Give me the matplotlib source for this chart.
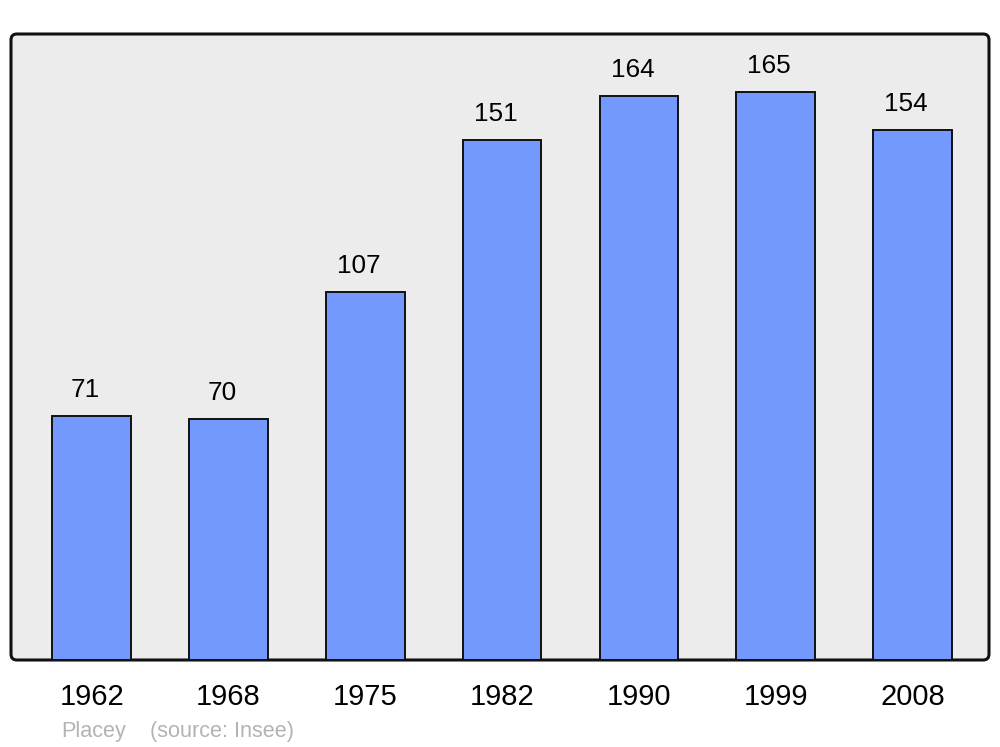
import matplotlib
matplotlib.use("Agg")
import matplotlib.pyplot as plt
from matplotlib.patches import FancyBboxPatch

years = ["1962", "1968", "1975", "1982", "1990", "1999", "2008"]
population = [71, 70, 107, 151, 164, 165, 154]

plt.rcParams['font.family'] = ['Liberation Sans', 'DejaVu Sans']

fig = plt.figure(figsize=(10, 7.47), dpi=100)
ax = fig.add_axes([0.011, 87 / 747, 0.978, 626 / 747])
ax.set_facecolor('none')
for s in ax.spines.values():
    s.set_visible(False)

# rounded frame behind the bars
frame = FancyBboxPatch((0, 0), 1, 1, boxstyle="round,pad=0,rounding_size=0.006",
                       mutation_aspect=978 / 626, transform=ax.transAxes,
                       facecolor='#ececec', edgecolor='#111111', linewidth=2.2,
                       zorder=0, clip_on=False)
ax.add_patch(frame)

x = range(len(years))
ax.bar(x, population, width=0.575, color='#7399ff', edgecolor='#111111',
       linewidth=1.4, zorder=2)

for xi, v in zip(x, population):
    ax.annotate(str(v), (xi, v), xytext=(-4.5, 10), textcoords='offset points',
                ha='center', va='bottom', fontsize=18.8, color='black')

ax.set_xlim(-0.59, 6.56)
ax.set_ylim(0, 181.9)
ax.set_yticks([])
ax.set_xticks(list(x))
ax.set_xticklabels(years, fontsize=21)
ax.tick_params(axis='x', length=0, pad=16.5)

fig.text(61 / 1000, 10 / 747, "Placey", fontsize=15.6, color='#b3b3b3', va='baseline')
fig.text(150 / 1000, 10 / 747, "(source: Insee)", fontsize=15.6, color='#b3b3b3', va='baseline')

fig.savefig("out.png", dpi=100)
